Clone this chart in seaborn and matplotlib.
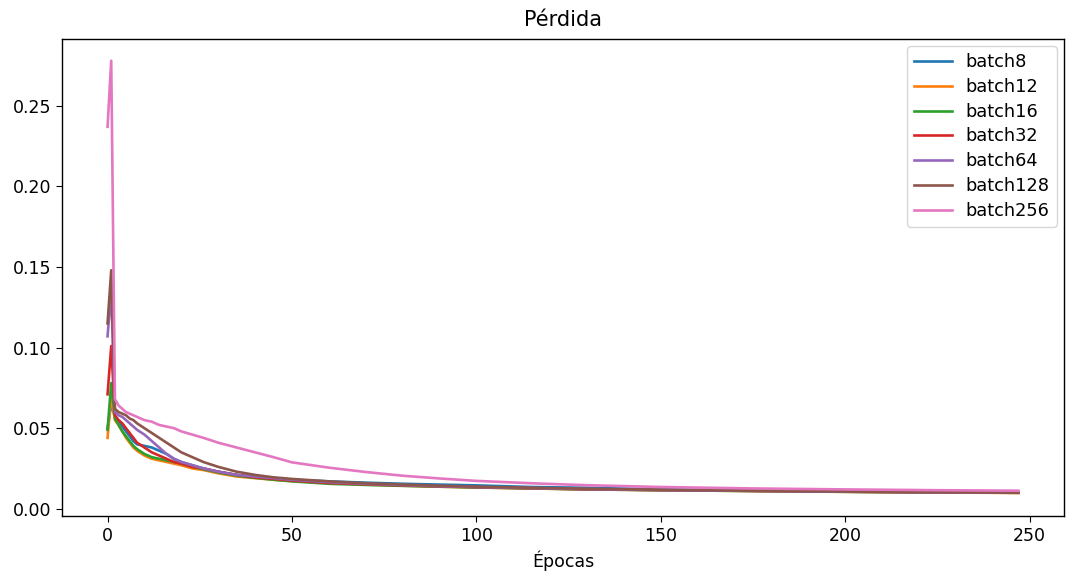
import numpy as np
import pandas as pd
import matplotlib
matplotlib.use("Agg")
import matplotlib.pyplot as plt
import seaborn as sns

epochs = [0, 1, 2, 3, 4, 5, 6, 7, 8, 10, 12, 14, 16, 18, 20, 23, 26, 30, 35, 40, 45,
          50, 60, 70, 80, 90, 100, 115, 130, 150, 175, 200, 225, 247]

batch8 = [0.050, 0.065, 0.057, 0.054, 0.051, 0.048, 0.045, 0.042, 0.040, 0.039, 0.038,
          0.036, 0.034, 0.031, 0.029, 0.027, 0.025, 0.023, 0.021, 0.020, 0.019,
          0.018, 0.017, 0.0162, 0.0155, 0.015, 0.0145, 0.0135, 0.013, 0.012, 0.0113,
          0.0108, 0.0104, 0.0101]
batch12 = [0.044, 0.070, 0.055, 0.052, 0.048, 0.044, 0.041, 0.038, 0.036, 0.033, 0.031,
           0.030, 0.029, 0.028, 0.027, 0.025, 0.024, 0.022, 0.020, 0.019, 0.018,
           0.0172, 0.016, 0.015, 0.0143, 0.0137, 0.0132, 0.0126, 0.012, 0.0115, 0.011,
           0.0105, 0.0101, 0.0098]
batch16 = [0.049, 0.078, 0.056, 0.052, 0.048, 0.045, 0.042, 0.039, 0.037, 0.034, 0.032,
           0.031, 0.030, 0.029, 0.028, 0.026, 0.0245, 0.0225, 0.0205, 0.0192, 0.018,
           0.017, 0.0155, 0.0148, 0.0142, 0.0137, 0.0132, 0.0126, 0.012, 0.0115, 0.011,
           0.0105, 0.0101, 0.0099]
batch32 = [0.071, 0.101, 0.058, 0.055, 0.053, 0.050, 0.047, 0.044, 0.041, 0.038, 0.035,
           0.033, 0.031, 0.029, 0.028, 0.026, 0.025, 0.023, 0.021, 0.0195, 0.0185,
           0.0175, 0.016, 0.0152, 0.0145, 0.0139, 0.0134, 0.0127, 0.0121, 0.0116, 0.0111,
           0.0106, 0.0102, 0.0099]
batch64 = [0.107, 0.135, 0.060, 0.058, 0.057, 0.055, 0.053, 0.051, 0.049, 0.046, 0.042,
           0.038, 0.034, 0.031, 0.029, 0.027, 0.025, 0.023, 0.021, 0.020, 0.019,
           0.018, 0.0165, 0.0155, 0.0147, 0.014, 0.0135, 0.0128, 0.0122, 0.0116, 0.0111,
           0.0106, 0.0102, 0.0100]
batch128 = [0.115, 0.148, 0.062, 0.060, 0.059, 0.058, 0.056, 0.055, 0.053, 0.050, 0.047,
            0.044, 0.041, 0.038, 0.035, 0.032, 0.029, 0.026, 0.023, 0.021, 0.0195,
            0.0185, 0.017, 0.0158, 0.015, 0.0143, 0.0137, 0.013, 0.0124, 0.0118, 0.0112,
            0.0107, 0.0103, 0.0100]
batch256 = [0.237, 0.278, 0.068, 0.064, 0.062, 0.060, 0.059, 0.058, 0.057, 0.055, 0.054,
            0.052, 0.051, 0.050, 0.048, 0.046, 0.044, 0.041, 0.038, 0.035, 0.032,
            0.0288, 0.0255, 0.0228, 0.0205, 0.0188, 0.0173, 0.0158, 0.0146, 0.0135, 0.0126,
            0.0120, 0.0115, 0.0112]

series_names = ["batch8", "batch12", "batch16", "batch32", "batch64", "batch128", "batch256"]
series_values = [batch8, batch12, batch16, batch32, batch64, batch128, batch256]

rows = []
for name, vals in zip(series_names, series_values):
    for e, v in zip(epochs, vals):
        rows.append({"epoch": e, "loss": v, "serie": name})
df = pd.DataFrame(rows)

plt.rcParams["xtick.major.size"] = 4.4
plt.rcParams["ytick.major.size"] = 4.4
plt.rcParams["axes.linewidth"] = 1.0

fig = plt.figure(figsize=(10.66, 5.71), dpi=100)
ax = fig.add_axes([62 / 1066, 1 - 516 / 571, (1064 - 62) / 1066, (516 - 39) / 571])

colors = sns.color_palette("tab10", len(series_names))
sns.lineplot(data=df, x="epoch", y="loss", hue="serie", hue_order=series_names,
             palette=colors, linewidth=1.9, ax=ax, errorbar=None)

ax.set_title("Pérdida", fontsize=15, pad=9)
ax.set_xlabel("Épocas", fontsize=12.5, labelpad=4)
ax.set_ylabel("")
ax.set_xticks([0, 50, 100, 150, 200, 250])
ax.set_yticks([0.00, 0.05, 0.10, 0.15, 0.20, 0.25])
ax.set_yticklabels(["0.00", "0.05", "0.10", "0.15", "0.20", "0.25"])
ax.tick_params(labelsize=12.5)
ax.set_xlim(-12.35, 259.35)
ax.set_ylim(-0.0045, 0.2915)

handles, labels = ax.get_legend_handles_labels()
for h in handles:
    h.set_linewidth(1.9)
ax.legend(handles, labels, loc="upper right", fontsize=12.8, labelspacing=0.38,
          handlelength=2.1, borderaxespad=0.4)

fig.savefig("out.png", dpi=100)
